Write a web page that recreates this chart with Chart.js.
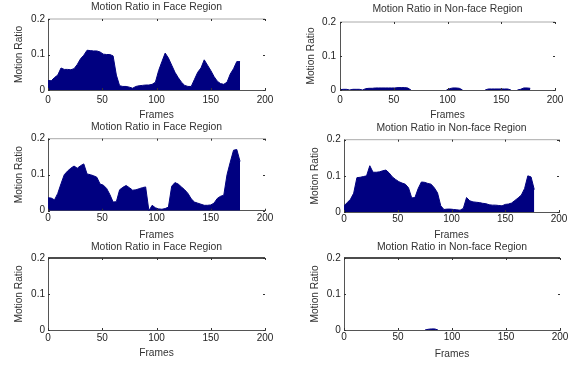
<!DOCTYPE html>
<html>
<head>
<meta charset="utf-8">
<script src="https://cdn.jsdelivr.net/npm/chart.js@4.4.0/dist/chart.umd.min.js"></script>
<style>
  body { margin: 0; background: #fff; }
  #wrap { position: relative; width: 579px; height: 366px; overflow: hidden; background: #fff; }
  canvas { position: absolute; }
</style>
</head>
<body>
<div id="wrap"></div>
<script>
const frames = [0, 3, 6, 9, 12, 15, 18, 21, 24, 27, 30, 33, 36, 39, 42, 45, 48, 51, 54, 57,
    60, 63, 66, 69, 72, 75, 78, 81, 84, 87, 90, 93, 96, 99, 102, 105, 108, 111, 114, 117,
    120, 123, 126, 129, 132, 135, 138, 141, 144, 147, 150, 153, 156, 159, 162, 165, 168, 171, 174, 177]

const xTicks = [0, 50, 100, 150, 200]
const yTicks = [0, 0.1, 0.2]

// row 1
const faceTop = [0.027, 0.026, 0.035, 0.042, 0.062, 0.058, 0.058, 0.057, 0.060, 0.072,
    0.088, 0.098, 0.112, 0.111, 0.110, 0.110, 0.107, 0.101, 0.100, 0.100,
    0.096, 0.042, 0.012, 0.010, 0.010, 0.008, 0.005, 0.010, 0.012, 0.013,
    0.014, 0.014, 0.016, 0.022, 0.055, 0.080, 0.104, 0.090, 0.070, 0.050,
    0.035, 0.022, 0.013, 0.010, 0.010, 0.030, 0.050, 0.062, 0.085, 0.070,
    0.055, 0.038, 0.025, 0.018, 0.016, 0.022, 0.045, 0.060, 0.080, 0.080]
const nonFaceTop = [0.001, 0.002, 0.002, 0, 0.002, 0.002, 0.002, 0, 0.004, 0.005,
    0.005, 0.006, 0.006, 0.006, 0.006, 0.006, 0.006, 0.006, 0.007, 0.007,
    0.007, 0.006, 0, 0, 0, 0, 0, 0, 0, 0,
    0, 0, 0, 0, 0.004, 0.006, 0.006, 0.005, 0, 0,
    0, 0, 0, 0, 0, 0, 0.003, 0.003, 0.003, 0.003,
    0.003, 0.003, 0.003, 0, 0, 0, 0.002, 0.006, 0.006, 0.005]

// row 2
const faceMid = [0.036, 0.035, 0.030, 0.048, 0.075, 0.100, 0.110, 0.118, 0.124, 0.118,
    0.125, 0.130, 0.102, 0.100, 0.097, 0.093, 0.074, 0.071, 0.062, 0.045,
    0.024, 0.025, 0.058, 0.065, 0.070, 0.064, 0.057, 0.058, 0.061, 0.064,
    0.066, 0, 0.015, 0.008, 0.005, 0.004, 0.006, 0.010, 0.068, 0.078,
    0.074, 0.066, 0.058, 0.048, 0.033, 0.024, 0.021, 0.018, 0.015, 0.015,
    0.016, 0.021, 0.034, 0.040, 0.043, 0.100, 0.135, 0.168, 0.170, 0.137]
const nonFaceMid = [0.017, 0.026, 0.035, 0.052, 0.095, 0.096, 0.098, 0.100, 0.128, 0.110,
    0.110, 0.111, 0.114, 0.116, 0.108, 0.097, 0.090, 0.084, 0.080, 0.077,
    0.067, 0.039, 0.040, 0.065, 0.083, 0.082, 0.079, 0.077, 0.067, 0.053,
    0.017, 0.007, 0.008, 0.008, 0.007, 0.006, 0.005, 0.010, 0.040, 0.031,
    0.028, 0.027, 0.026, 0.024, 0.023, 0.020, 0.019, 0.019, 0.018, 0.017,
    0.021, 0.022, 0.025, 0.032, 0.039, 0.047, 0.065, 0.100, 0.097, 0.062]

// row 3
const faceLow = [0, 0, 0, 0, 0, 0, 0, 0, 0, 0,
    0, 0, 0, 0, 0, 0, 0, 0, 0, 0,
    0, 0, 0, 0, 0, 0, 0, 0, 0, 0,
    0, 0, 0, 0, 0, 0, 0, 0, 0, 0,
    0, 0, 0, 0, 0, 0, 0, 0, 0, 0,
    0, 0, 0, 0, 0, 0, 0, 0, 0, 0]
const nonFaceLow = [0, 0, 0, 0, 0, 0, 0, 0, 0, 0,
    0, 0, 0, 0, 0, 0, 0, 0, 0, 0,
    0, 0, 0, 0, 0, 0, 0.002, 0.003, 0.003, 0,
    0, 0, 0, 0, 0, 0, 0, 0, 0, 0,
    0, 0, 0, 0, 0, 0, 0, 0, 0, 0,
    0, 0, 0, 0, 0, 0, 0, 0, 0, 0]

const FACE = 'Motion Ratio in Face Region'
const NON_FACE = 'Motion Ratio in Non-face Region'

const TITLE_SIZE = 10.4
const AXIS_TITLE_SIZE = 10.2
const TICK_SIZE = 10
const FILL = '#000080'

// box: canvas [left, top, width, height], area: plot [left, top, right, bottom]
const panels = [
    { title: FACE, values: faceTop, box: [0, 0, 290, 125], area: [48, 19, 265, 90],
      titleY: 7, tickY: 100.3, xTitleY: 115.5, yTitleX: 19, yPad: 3, topColor: '#aaa', topWidth: 1 },
    { title: NON_FACE, values: nonFaceTop, box: [290, 0, 289, 125], area: [340, 22, 555, 90],
      titleY: 9.5, tickY: 100, xTitleY: 115, yTitleX: 311, yPad: 4, topColor: '#aaa', topWidth: 1 },
    { title: FACE, values: faceMid, box: [0, 118, 290, 125], area: [48, 138.7, 265, 210.7],
      titleY: 127.5, tickY: 218.3, xTitleY: 235, yTitleX: 19, yPad: 3, topColor: '#aaa', topWidth: 1 },
    { title: NON_FACE, values: nonFaceMid, box: [290, 118, 289, 125], area: [344, 139.7, 559, 212],
      titleY: 128.5, tickY: 219.5, xTitleY: 235.5, yTitleX: 315, yPad: 3.3, topColor: '#aaa', topWidth: 1 },
    { title: FACE, values: faceLow, box: [0, 236, 290, 130], area: [48, 258, 265, 330],
      titleY: 247, tickY: 338, xTitleY: 353.5, yTitleX: 19, yPad: 3, topColor: '#111', topWidth: 1.5 },
    { title: NON_FACE, values: nonFaceLow, box: [290, 236, 289, 130], area: [344, 258, 560, 330],
      titleY: 247, tickY: 337.7, xTitleY: 354, yTitleX: 315, yPad: 3.3, topColor: '#111', topWidth: 1.5 },
]

Chart.defaults.font.family = '"Liberation Sans", Arial, Helvetica, sans-serif'
Chart.defaults.color = '#333'

const lineHeight = (size) => size * 1.2

// top edge of the box plus the small inward tick marks
const boxTicks = {
    id: 'boxTicks',
    afterDatasetsDraw(chart, args, opts) {
        const { ctx, chartArea: a } = chart
        const x = chart.scales.x
        const y = chart.scales.y
        ctx.save()
        ctx.strokeStyle = opts.topColor
        ctx.lineWidth = opts.topWidth
        ctx.beginPath()
        ctx.moveTo(a.left, a.top)
        ctx.lineTo(a.right, a.top)
        ctx.stroke()

        ctx.strokeStyle = '#333'
        ctx.lineWidth = 1
        ctx.beginPath()
        xTicks.forEach(v => {
            const px = Math.round(x.getPixelForValue(v)) + 0.5
            ctx.moveTo(px, a.top)
            ctx.lineTo(px, a.top + 2)
            ctx.moveTo(px, a.bottom)
            ctx.lineTo(px, a.bottom - 2)
        })
        yTicks.forEach(v => {
            const py = Math.round(y.getPixelForValue(v)) + 0.5
            ctx.moveTo(a.right, py)
            ctx.lineTo(a.right - 2, py)
            ctx.moveTo(a.left, py)
            ctx.lineTo(a.left + 2, py)
        })
        ctx.stroke()
        ctx.restore()
    }
}

const wrap = document.getElementById('wrap')

const makeChart = (p) => {
    const [bx, by, bw, bh] = p.box
    const [L, T, R, B] = p.area

    const canvas = document.createElement('canvas')
    canvas.width = bw
    canvas.height = bh
    canvas.style.left = bx + 'px'
    canvas.style.top = by + 'px'
    canvas.style.width = bw + 'px'
    canvas.style.height = bh + 'px'
    wrap.appendChild(canvas)

    const tl = lineHeight(TITLE_SIZE)
    const titleTop = p.titleY - by - tl / 2
    const titleBottom = T - by - titleTop - tl
    const xHeight = p.xTitleY + lineHeight(AXIS_TITLE_SIZE) / 2 - B
    const tickPad = p.tickY - B - lineHeight(TICK_SIZE) / 2
    const yTitlePad = p.yTitleX - bx - lineHeight(AXIS_TITLE_SIZE) / 2

    new Chart(canvas, {
        type: 'line',
        data: {
            labels: frames,
            datasets: [{
                data: p.values,
                fill: 'origin',
                backgroundColor: FILL,
                borderColor: FILL,
                borderWidth: 1,
                pointRadius: 0,
                tension: 0,
                segment: {
                    borderColor: ctx => (ctx.p0.parsed.y === 0 && ctx.p1.parsed.y === 0) ? 'rgba(0,0,0,0)' : undefined
                }
            }]
        },
        options: {
            responsive: false,
            animation: false,
            devicePixelRatio: 1,
            events: [],
            layout: {
                padding: { left: 0, top: 0, right: bx + bw - R, bottom: by + bh - B - xHeight }
            },
            plugins: {
                legend: { display: false },
                tooltip: { enabled: false },
                title: {
                    display: true,
                    text: p.title,
                    fullSize: false,
                    color: '#333',
                    font: { size: TITLE_SIZE, weight: 'normal' },
                    padding: { top: titleTop, bottom: titleBottom }
                },
                boxTicks: { topColor: p.topColor, topWidth: p.topWidth }
            },
            scales: {
                x: {
                    type: 'linear',
                    min: 0,
                    max: 200,
                    grid: { display: false, drawTicks: false },
                    border: { display: true, color: '#555', width: 1 },
                    ticks: { padding: tickPad, font: { size: TICK_SIZE }, color: '#222', maxRotation: 0 },
                    afterBuildTicks: (s) => { s.ticks = xTicks.map(v => ({ value: v })) },
                    title: {
                        display: true,
                        text: 'Frames',
                        font: { size: AXIS_TITLE_SIZE },
                        padding: { top: 0, bottom: 0 }
                    },
                    afterFit: (s) => {
                        s.height = xHeight
                        s.paddingLeft = 0
                        s.paddingRight = 0
                    }
                },
                y: {
                    min: 0,
                    max: 0.2,
                    grid: { display: false, drawTicks: false },
                    border: { display: true, color: '#555', width: 1 },
                    ticks: { padding: p.yPad, font: { size: TICK_SIZE }, color: '#222' },
                    afterBuildTicks: (s) => { s.ticks = yTicks.map(v => ({ value: v })) },
                    title: {
                        display: true,
                        text: 'Motion Ratio',
                        font: { size: AXIS_TITLE_SIZE },
                        padding: { top: yTitlePad, bottom: 0 }
                    },
                    afterFit: (s) => {
                        s.width = L - bx
                        s.paddingTop = 0
                        s.paddingBottom = 0
                    }
                }
            }
        },
        plugins: [boxTicks]
    })
}

panels.forEach(makeChart)
</script>
</body>
</html>
